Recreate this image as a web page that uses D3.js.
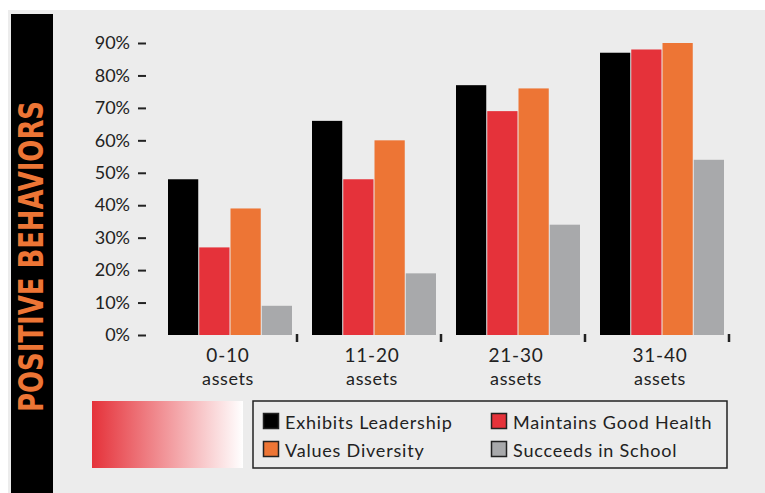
<!DOCTYPE html>
<html>
<head>
<meta charset="utf-8">
<script src="https://cdn.jsdelivr.net/npm/d3@7"></script>
<style>
  html, body { margin: 0; padding: 0; background: #fff; }
  svg { display: block; }
  text { font-family: Lato, "Open Sans", sans-serif; fill: #222; }
</style>
</head>
<body>
<div id="chart"></div>
<script>
// asset groups along the x axis
var groups = ["0-10", "11-20", "21-30", "31-40"];
var series = ["Exhibits Leadership", "Maintains Good Health", "Values Diversity", "Succeeds in School"];
var colors = ["#000000", "#e5323a", "#ed7535", "#a8a9ab"];

// percent of youth showing each behaviour, per group
var leadership = [48, 66, 77, 87];
var health = [27, 48, 69, 88];
var diversity = [39, 60, 76, 90];
var school = [9, 19, 34, 54];

var yTicks = [0, 10, 20, 30, 40, 50, 60, 70, 80, 90];

(function () {
  "use strict";

  var W = 765, H = 493;
  var values = [leadership, health, diversity, school];

  var svg = d3.select("#chart").append("svg")
    .attr("width", W)
    .attr("height", H);

  // grey panel + black side band
  svg.append("rect").attr("x", 8).attr("y", 10).attr("width", W - 8).attr("height", H - 10).attr("fill", "#ececec");
  svg.append("rect").attr("x", 11).attr("y", 14).attr("width", 42).attr("height", H - 14).attr("fill", "#000");

  svg.append("text")
    .attr("transform", "translate(43,412) rotate(-90)")
    .attr("textLength", 311)
    .attr("lengthAdjust", "spacingAndGlyphs")
    .style("font-family", "'DejaVu Sans Condensed', 'DejaVu Sans', sans-serif")
    .style("font-weight", "bold")
    .style("font-size", "34px")
    .style("fill", "#ed7535")
    .text("POSITIVE BEHAVIORS");

  var y = d3.scaleLinear().domain([0, 90]).range([335, 43]);
  var x = d3.scaleBand().domain(groups).range([153, 729]);
  var xs = d3.scaleBand().domain(series).range([15, 139]).paddingInner(1 / 31);

  // y axis (ticks only, no domain line)
  var yAxis = svg.append("g")
    .attr("transform", "translate(146,0)")
    .call(d3.axisLeft(y).tickValues(yTicks).tickSize(8).tickPadding(8)
      .tickFormat(function (d) { return d + "%"; }));
  yAxis.select(".domain").remove();
  yAxis.selectAll(".tick line").attr("stroke", "#222").attr("stroke-width", 2);
  yAxis.selectAll(".tick text").style("font-size", "18px").attr("fill", "#222");

  // bars
  var g = svg.append("g").selectAll("g")
    .data(groups)
    .join("g")
    .attr("transform", function (d) { return "translate(" + x(d) + ",0)"; });

  g.selectAll("rect")
    .data(function (d, i) {
      return series.map(function (s, j) { return { s: s, j: j, v: values[j][i] }; });
    })
    .join("rect")
    .attr("x", function (d) { return xs(d.s); })
    .attr("width", xs.bandwidth())
    .attr("y", function (d) { return y(d.v); })
    .attr("height", function (d) { return y(0) - y(d.v); })
    .attr("fill", function (d) { return colors[d.j]; });

  // small ticks at band edges below the baseline
  svg.append("g").selectAll("line")
    .data(groups)
    .join("line")
    .attr("x1", function (d) { return x(d) + x.bandwidth(); })
    .attr("x2", function (d) { return x(d) + x.bandwidth(); })
    .attr("y1", y(0) - 1)
    .attr("y2", y(0) + 7)
    .attr("stroke", "#222")
    .attr("stroke-width", 2.5);

  // group labels
  var lab = svg.append("g").selectAll("g")
    .data(groups)
    .join("g")
    .attr("transform", function (d) { return "translate(" + (x(d) + x.bandwidth() / 2 + 3) + ",0)"; });
  lab.append("text").attr("y", 362).attr("text-anchor", "middle")
    .style("font-size", "19px").style("letter-spacing", "0.8px")
    .text(function (d) { return d; });
  lab.append("text").attr("y", 385).attr("text-anchor", "middle")
    .style("font-size", "18px").style("letter-spacing", "0.6px")
    .text("assets");

  // gradient block
  var grad = svg.append("defs").append("linearGradient").attr("id", "fade");
  grad.append("stop").attr("offset", "0%").attr("stop-color", "#e5323a");
  grad.append("stop").attr("offset", "100%").attr("stop-color", "#ffffff");
  svg.append("rect").attr("x", 92).attr("y", 401).attr("width", 151).attr("height", 67).attr("fill", "url(#fade)");

  // legend
  var legend = svg.append("g");
  legend.append("rect")
    .attr("x", 253).attr("y", 401).attr("width", 474).attr("height", 67)
    .attr("fill", "none").attr("stroke", "#222").attr("stroke-width", 1.5);

  var item = legend.selectAll("g.item")
    .data(series)
    .join("g")
    .attr("class", "item")
    .attr("transform", function (d, i) {
      var cx = [263, 491, 263, 491][i];
      var cy = [413, 413, 441, 441][i];
      return "translate(" + cx + "," + cy + ")";
    });

  item.append("rect")
    .attr("width", 15).attr("height", 15)
    .attr("x", 0.5).attr("y", 0.5)
    .attr("fill", function (d, i) { return colors[i]; })
    .attr("stroke", "#222").attr("stroke-width", 1.5);

  item.append("text")
    .attr("x", 22).attr("y", 16)
    .style("font-size", "18px").style("letter-spacing", "0.8px")
    .text(function (d) { return d; });
})();
</script>
</body>
</html>
